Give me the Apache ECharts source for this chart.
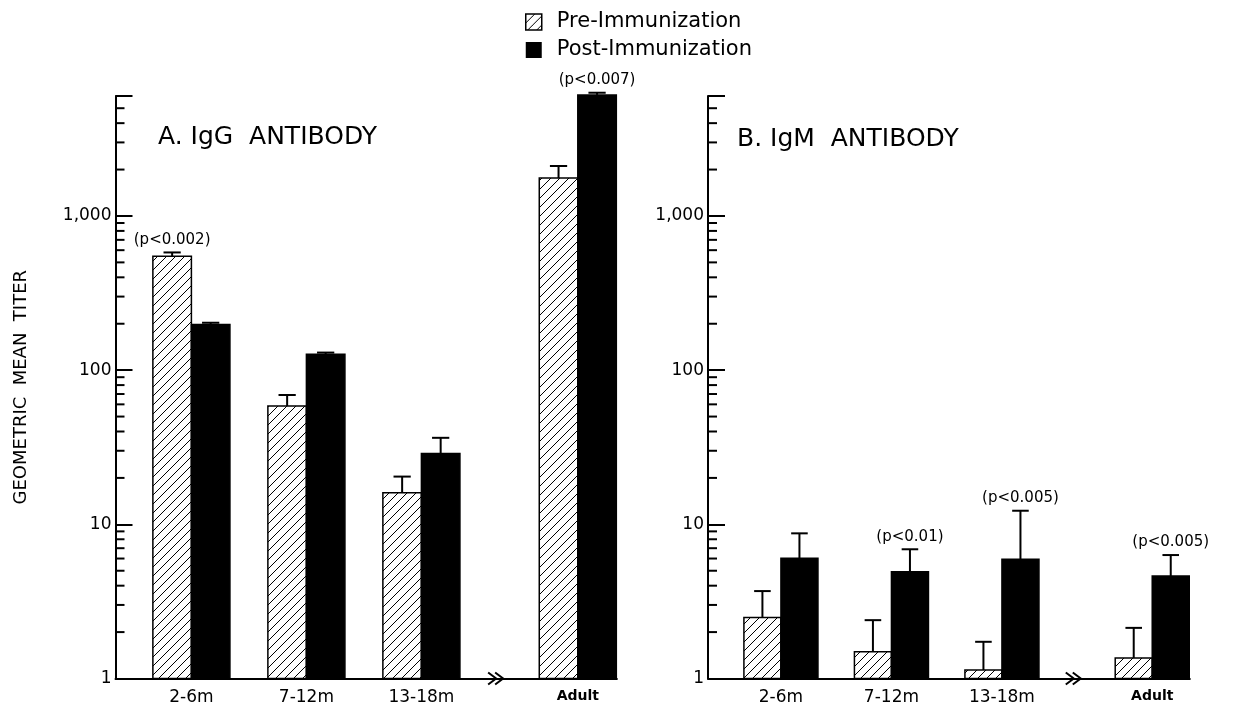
<!DOCTYPE html>
<html><head><meta charset="utf-8">
<script src="https://cdn.jsdelivr.net/npm/echarts@6/dist/echarts.min.js"></script>
<style>html,body{margin:0;padding:0;background:#fff}#c{width:1240px;height:708px}</style>
</head><body><div id="c"></div>
<script>
// ---- data ----
const categories = ['2-6m', '7-12m', '13-18m', 'Adult'];
const preA = [548, 58.5, 16.0, 1760];
const preUpperA = [580, 69, 20.4, 2110];
const postA = [198, 127, 28.8, 6100];
const postUpperA = [203, 130, 36.4, 6300];
const preB = [2.49, 1.49, 1.135, 1.36];
const preUpperB = [3.69, 2.39, 1.73, 2.13];
const postB = [6.02, 4.93, 5.93, 4.62];
const postUpperB = [8.74, 6.89, 12.25, 6.32];
const preNoteA = ['(p<0.002)', '', '', ''];
const postNoteA = ['', '', '', '(p<0.007)'];
const preNoteB = ['', '', '', ''];
const postNoteB = ['', '(p<0.01)', '(p<0.005)', '(p<0.005)'];
const yTickLabels = {1: '1', 10: '10', 100: '100', 1000: '1,000'};
const minorTicks = [2, 3, 4, 5, 6, 7, 8, 9, 20, 30, 40, 50, 60, 70, 80, 90, 200, 300, 400, 500, 600, 700, 800, 900, 2000, 3000, 4000, 5000];

// ---- layout ----
const FONT = 'DejaVu Sans';
const BAR_W = 0.335, FIRST = 0.66, GAP = 0.36, XMAX = 4.36, BREAK_AT = 3.31, YMAX = 6000;
const catPos = categories.map((c, i) => FIRST + i + (i === 3 ? GAP : 0));

function makeHatch() {
  const n = 9;
  const c = document.createElement('canvas');
  c.width = n; c.height = n;
  const g = c.getContext('2d');
  g.fillStyle = '#fff'; g.fillRect(0, 0, n, n);
  g.strokeStyle = '#000'; g.lineWidth = 1;
  g.beginPath();
  g.moveTo(0, n); g.lineTo(n, 0);
  g.moveTo(-2, 2); g.lineTo(2, -2);
  g.moveTo(n - 2, n + 2); g.lineTo(n + 2, n - 2);
  g.stroke();
  return c;
}
const hatchFill = {image: makeHatch(), repeat: 'repeat'};

function barSeries(name, g, values, uppers, notes, side, fill) {
  return {
    type: 'custom', name: name, xAxisIndex: g, yAxisIndex: g, clip: false,
    itemStyle: {color: fill},
    data: values.map((v, i) => [catPos[i] + side * BAR_W / 2, v, uppers[i], i]),
    renderItem: function (params, api) {
      const x = api.value(0), v = api.value(1), up = api.value(2), i = api.value(3);
      const tl = api.coord([x - BAR_W / 2, v]);
      const br = api.coord([x + BAR_W / 2, 1]);
      const cx = api.coord([x, v])[0];
      const capY = api.coord([x, up])[1];
      const capHalf = api.coord([x + 0.075, v])[0] - cx;
      const children = [
        {type: 'rect', shape: {x: tl[0], y: tl[1], width: br[0] - tl[0], height: br[1] - tl[1]},
         style: {fill: fill, stroke: '#000', lineWidth: 1.5}},
        {type: 'line', shape: {x1: cx, y1: tl[1], x2: cx, y2: capY}, style: {stroke: '#000', lineWidth: 2}},
        {type: 'line', shape: {x1: cx - capHalf, y1: capY, x2: cx + capHalf, y2: capY}, style: {stroke: '#000', lineWidth: 2}}
      ];
      if (notes[i]) {
        children.push({type: 'text', style: {text: notes[i], x: cx, y: capY - 5, align: 'center', verticalAlign: 'bottom',
          fontSize: 15, fontFamily: FONT, fill: '#000'}});
      }
      return {type: 'group', children: children};
    }
  };
}

function tickSeries(g) {
  return {
    type: 'custom', xAxisIndex: g, yAxisIndex: g, silent: true, clip: false,
    data: minorTicks.map(v => [0, v]),
    renderItem: function (params, api) {
      const p = api.coord([0, api.value(1)]);
      return {type: 'line', shape: {x1: p[0], y1: p[1], x2: p[0] + 9, y2: p[1]}, style: {stroke: '#000', lineWidth: 2}};
    }
  };
}

function breakSeries(g) {
  return {
    type: 'custom', xAxisIndex: g, yAxisIndex: g, silent: true, clip: false,
    data: [[BREAK_AT, 1]],
    renderItem: function (params, api) {
      const p = api.coord([api.value(0), 1]);
      const chev = tx => ({type: 'polyline', shape: {points: [[tx - 8, p[1] - 6], [tx, p[1]], [tx - 8, p[1] + 6]]},
        style: {stroke: '#000', fill: null, lineWidth: 2}});
      return {type: 'group', children: [chev(p[0]), chev(p[0] + 7)]};
    }
  };
}

function nearestCat(v) {
  let best = 0;
  catPos.forEach((p, i) => { if (Math.abs(p - v) < Math.abs(catPos[best] - v)) best = i; });
  return best;
}

const chart = echarts.init(document.getElementById('c'), null, {renderer: 'canvas'});
chart.setOption({
  animation: false,
  backgroundColor: '#fff',
  title: [
    {text: 'A. IgG  ANTIBODY', left: 158, top: 125, padding: 0,
     textStyle: {fontSize: 25, fontWeight: 'normal', fontFamily: FONT, color: '#000'}},
    {text: 'B. IgM  ANTIBODY', left: 737, top: 127, padding: 0,
     textStyle: {fontSize: 25, fontWeight: 'normal', fontFamily: FONT, color: '#000'}}
  ],
  legend: {
    orient: 'vertical', left: 525, top: 11, padding: 0, itemWidth: 16, itemHeight: 16, itemGap: 6,
    icon: 'rect', selectedMode: false,
    textStyle: {fontSize: 21, fontFamily: FONT, color: '#000', lineHeight: 22, padding: [0, 0, 0, 10]},
    data: [
      {name: 'Pre-Immunization', itemStyle: {color: hatchFill, borderColor: '#000', borderWidth: 1.5}},
      {name: 'Post-Immunization', itemStyle: {color: '#000'}}
    ]
  },
  grid: [
    {left: 115.5, top: 96, width: 501.4, height: 582.5, outerBoundsMode: 'none'},
    {left: 708, top: 96, width: 481.8, height: 582.5, outerBoundsMode: 'none'}
  ],
  xAxis: [0, 1].map(g => ({
    type: 'value', gridIndex: g, min: 0, max: XMAX,
    axisLine: {show: true, onZero: false, lineStyle: {color: '#000', width: 2}},
    axisTick: {show: false}, splitLine: {show: false},
    axisLabel: {
      show: true, customValues: catPos, margin: 11, fontSize: 17, fontFamily: FONT, color: '#000',
      formatter: function (v) { const i = nearestCat(v); return i === 3 ? '{b|' + categories[i] + '}' : categories[i]; },
      rich: {b: {fontWeight: 'bold', fontSize: 14, fontFamily: FONT, color: '#000'}}
    }
  })),
  yAxis: [0, 1].map(g => ({
    type: 'log', gridIndex: g, logBase: 10, min: 1, max: YMAX,
    axisLine: {show: true, onZero: false, lineStyle: {color: '#000', width: 2}},
    axisTick: {show: true, inside: true, length: 17, lineStyle: {color: '#000', width: 2}},
    splitLine: {show: false}, minorTick: {show: false},
    axisLabel: {margin: 4, fontSize: 17, fontFamily: FONT, color: '#000',
      formatter: v => yTickLabels[Math.round(v)] || ''},
    name: g === 0 ? 'GEOMETRIC  MEAN  TITER' : '', nameLocation: 'middle', nameGap: 85, nameRotate: 90,
    nameTextStyle: {fontSize: 18, fontFamily: FONT, color: '#000'}
  })),
  series: [
    barSeries('Pre-Immunization', 0, preA, preUpperA, preNoteA, -1, hatchFill),
    barSeries('Post-Immunization', 0, postA, postUpperA, postNoteA, 1, '#000'),
    barSeries('Pre-Immunization', 1, preB, preUpperB, preNoteB, -1, hatchFill),
    barSeries('Post-Immunization', 1, postB, postUpperB, postNoteB, 1, '#000'),
    tickSeries(0), tickSeries(1), breakSeries(0), breakSeries(1)
  ]
});
</script>
</body></html>
